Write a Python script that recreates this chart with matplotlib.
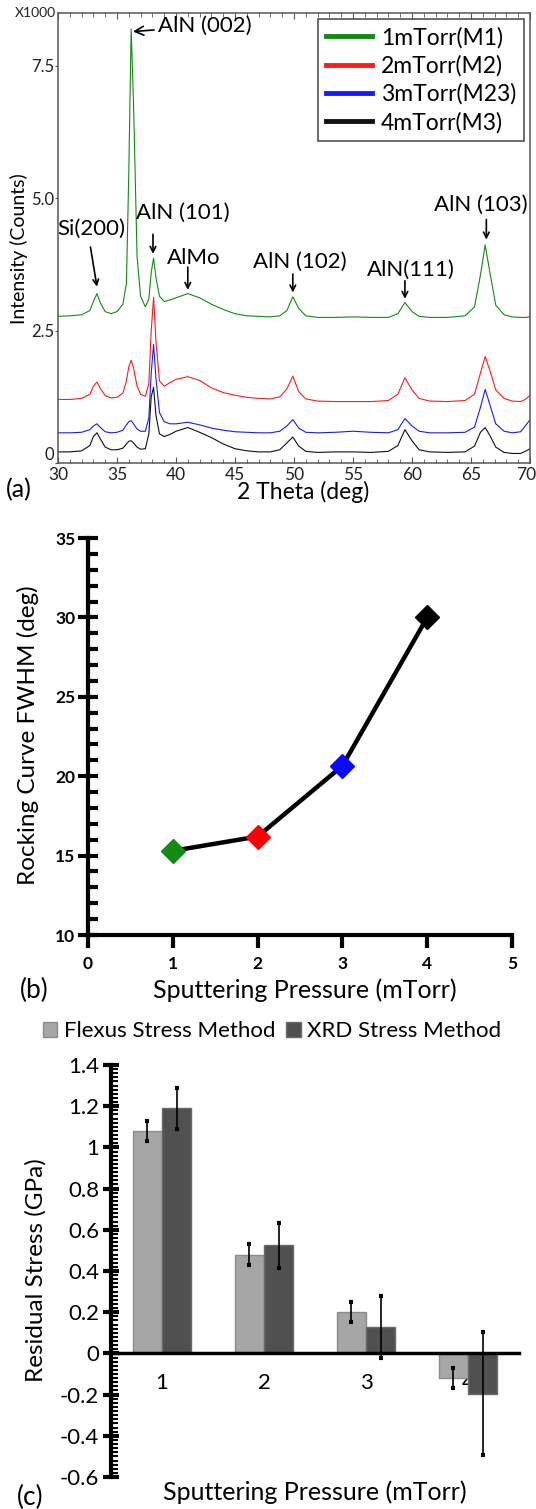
import matplotlib
matplotlib.use("Agg")
import matplotlib.pyplot as plt
from matplotlib.ticker import MultipleLocator, FuncFormatter
from matplotlib.patches import Patch

plt.rcParams['font.family'] = ['Lato', 'DejaVu Sans']
plt.rcParams['axes.unicode_minus'] = False

# ---------------- (a) XRD patterns ----------------
two_theta = [30, 31, 32, 32.7, 33.0, 33.3, 33.6, 34.0, 34.5, 35.0, 35.5, 35.8, 36.0, 36.2,
             36.4, 36.7, 37.0, 37.4, 37.7, 37.9, 38.1, 38.3, 38.6, 39.0, 39.5, 40.0, 41.0,
             42.0, 43.0, 44.0, 45.0, 46.0, 47.0, 48.0, 48.8, 49.4, 49.9, 50.4, 51.0, 52.0,
             53.5, 55.0, 56.5, 58.0, 58.8, 59.4, 60.0, 60.6, 61.5, 63.0, 64.5, 65.3, 65.8,
             66.2, 66.6, 67.1, 67.8, 68.5, 69.2, 69.6, 70.0]

# intensity in thousands of counts (curves are vertically offset)
int_m1 = [2.77, 2.78, 2.80, 2.88, 3.05, 3.20, 3.02, 2.86, 2.82, 2.86, 3.00, 3.40, 5.50, 8.20,
          6.80, 3.90, 3.15, 2.95, 3.10, 3.60, 3.87, 3.50, 3.15, 3.05, 3.08, 3.12, 3.20,
          3.12, 3.00, 2.90, 2.82, 2.78, 2.77, 2.76, 2.78, 2.88, 3.14, 2.92, 2.78, 2.75,
          2.75, 2.76, 2.75, 2.75, 2.82, 3.03, 2.86, 2.77, 2.75, 2.75, 2.78, 2.95, 3.55,
          4.12, 3.60, 2.98, 2.80, 2.76, 2.75, 2.75, 2.76]
int_m2 = [1.20, 1.20, 1.22, 1.30, 1.45, 1.53, 1.40, 1.27, 1.23, 1.24, 1.32, 1.55, 1.82, 1.94,
          1.80, 1.45, 1.30, 1.26, 1.50, 2.50, 3.13, 2.30, 1.55, 1.45, 1.52, 1.58, 1.63,
          1.56, 1.42, 1.33, 1.28, 1.24, 1.22, 1.21, 1.25, 1.40, 1.64, 1.35, 1.21, 1.17,
          1.16, 1.16, 1.16, 1.18, 1.30, 1.61, 1.38, 1.22, 1.17, 1.16, 1.18, 1.30, 1.70,
          2.01, 1.75, 1.38, 1.22, 1.17, 1.16, 1.20, 1.28]
int_m23 = [0.57, 0.57, 0.58, 0.63, 0.70, 0.74, 0.67, 0.59, 0.57, 0.58, 0.62, 0.72, 0.78, 0.80,
           0.74, 0.64, 0.60, 0.60, 0.85, 1.70, 2.24, 1.60, 0.95, 0.78, 0.74, 0.74, 0.77,
           0.72, 0.66, 0.62, 0.59, 0.58, 0.57, 0.57, 0.60, 0.70, 0.82, 0.66, 0.58, 0.57,
           0.58, 0.60, 0.58, 0.57, 0.63, 0.84, 0.70, 0.60, 0.57, 0.57, 0.58, 0.68, 1.05,
           1.39, 1.10, 0.74, 0.60, 0.57, 0.59, 0.70, 0.82]
int_m3 = [0.21, 0.21, 0.23, 0.33, 0.50, 0.57, 0.45, 0.30, 0.25, 0.25, 0.28, 0.36, 0.41, 0.42,
          0.38, 0.30, 0.26, 0.27, 0.55, 1.25, 1.43, 0.90, 0.55, 0.50, 0.54, 0.60, 0.67,
          0.58, 0.48, 0.36, 0.27, 0.23, 0.21, 0.21, 0.25, 0.38, 0.49, 0.32, 0.22, 0.20,
          0.21, 0.21, 0.20, 0.22, 0.33, 0.63, 0.42, 0.25, 0.21, 0.20, 0.21, 0.32, 0.58,
          0.67, 0.52, 0.30, 0.20, 0.18, 0.18, 0.22, 0.27]

xrd_labels = ['1mTorr(M1)', '2mTorr(M2)', '3mTorr(M23)', '4mTorr(M3)']
xrd_colors = ['#138a13', '#ff1a1a', '#1a1aff', '#111111']

# ---------------- (b) rocking curve ----------------
pressure = [1, 2, 3, 4]
fwhm = [15.3, 16.2, 20.65, 30.0]
fwhm_colors = ['#138a13', '#ff0000', '#0a0aff', '#000000']

# ---------------- (c) residual stress ----------------
stress_cats = ['1', '2', '3', '4']
flexus = [1.08, 0.48, 0.20, -0.12]
flexus_err = [0.05, 0.05, 0.05, 0.05]
xrd = [1.19, 0.525, 0.13, -0.195]
xrd_err = [0.10, 0.11, 0.15, 0.30]

W, H = 536, 1509
fig = plt.figure(figsize=(W / 100, H / 100), dpi=100)


def box(l, r, t, b):
    return [l / W, 1 - b / H, (r - l) / W, (b - t) / H]


def fig_text(x, y, s, **kw):
    fig.text(x / W, 1 - y / H, s, ha=kw.pop('ha', 'center'), va=kw.pop('va', 'center'), **kw)


# ================= panel (a) =================
ax = fig.add_axes(box(58, 530, 13, 463))
for y, lab, col in zip([int_m1, int_m2, int_m23, int_m3], xrd_labels, xrd_colors):
    ax.plot(two_theta, y, color=col, lw=0.8, label=lab)
ax.set_xlim(30, 70)
ax.set_ylim(0, 8.5)
for s in ax.spines.values():
    s.set_color('#555555')
    s.set_linewidth(1.1)
ax.xaxis.set_major_locator(MultipleLocator(5))
ax.xaxis.set_minor_locator(MultipleLocator(1))
# the label at the right end is drawn separately so it stays inside the figure
ax.xaxis.set_major_formatter(FuncFormatter(lambda v, _: '' if v >= 70 else f"{v:g}"))
ax.tick_params(axis='x', which='both', direction='in', top=True, colors='#555555',
               labelcolor='#222222', labelsize=12.5, pad=3)
ax.tick_params(axis='x', which='major', length=4)
ax.tick_params(axis='x', which='minor', length=3)
ax.annotate('70', xy=(70, 0), xytext=(-3, -3), textcoords='offset points', ha='center',
            va='top', fontsize=12.5, color='#222222', annotation_clip=False)
ax.set_yticks([0, 2.5, 5.0, 7.5])
ax.set_yticklabels(['0', '2.5', '5.0', '7.5'])
ax.tick_params(axis='y', direction='out', length=2, colors='#555555',
               labelcolor='#222222', labelsize=12, pad=1)
ax.get_yticklabels()[0].set_va('bottom')
ax.text(-0.005, 1.0, 'X1000', transform=ax.transAxes, ha='right', va='center',
        fontsize=10, color='#222222')
fig_text(303, 492, '2 Theta (deg)', fontsize=16.5)
fig_text(19, 249, 'Intensity (Counts)', fontsize=14, rotation=90)
fig_text(19, 490, '(a)', fontsize=18)

leg = ax.legend(loc='upper right', fontsize=16.5, handlelength=2.0, handletextpad=0.4,
                borderaxespad=0.25, fancybox=False, edgecolor='#444444', framealpha=1,
                labelspacing=0.3, borderpad=0.35)
leg.get_frame().set_linewidth(1.1)
for h in leg.legend_handles:
    h.set_linewidth(3.5)

arrow = dict(arrowstyle='->', color='black', lw=1.2, shrinkA=0, shrinkB=0)
ann_fs = 16
ax.annotate('AlN (002)', xy=(36.35, 8.15), xytext=(38.5, 8.25), ha='left', va='center',
            fontsize=ann_fs, arrowprops=dict(arrowstyle='->', color='black', lw=1.2,
                                             shrinkA=1, shrinkB=0))
ax.text(32.85, 4.43, 'Si(200)', ha='center', va='center', fontsize=ann_fs)
ax.annotate('', xy=(33.3, 3.33), xytext=(32.75, 4.08), arrowprops=arrow)
ax.text(40.6, 4.72, 'AlN (101)', ha='center', va='center', fontsize=ann_fs)
ax.annotate('', xy=(38.05, 3.95), xytext=(38.05, 4.32), arrowprops=arrow)
ax.text(41.5, 3.88, 'AlMo', ha='center', va='center', fontsize=ann_fs)
ax.annotate('', xy=(41.0, 3.27), xytext=(41.0, 3.7), arrowprops=arrow)
ax.text(50.5, 3.8, 'AlN (102)', ha='center', va='center', fontsize=ann_fs)
ax.annotate('', xy=(49.9, 3.22), xytext=(49.9, 3.57), arrowprops=arrow)
ax.text(59.9, 3.65, 'AlN(111)', ha='center', va='center', fontsize=ann_fs)
ax.annotate('', xy=(59.4, 3.1), xytext=(59.4, 3.44), arrowprops=arrow)
ax.text(65.8, 4.88, 'AlN (103)', ha='center', va='center', fontsize=ann_fs)
ax.annotate('', xy=(66.3, 4.22), xytext=(66.3, 4.6), arrowprops=arrow)

# ================= panel (b) =================
bx = fig.add_axes(box(88, 512, 538, 935))
bx.plot(pressure, fwhm, color='black', lw=3.2, zorder=2)
for p, f, c in zip(pressure, fwhm, fwhm_colors):
    bx.plot([p], [f], marker='D', ms=12, color=c, mec=c, zorder=3)
bx.set_xlim(0, 5)
bx.set_ylim(10, 35)
for side in ['top', 'right']:
    bx.spines[side].set_visible(False)
for side in ['left', 'bottom']:
    bx.spines[side].set_linewidth(3)
bx.xaxis.set_major_locator(MultipleLocator(1))
bx.yaxis.set_major_locator(MultipleLocator(5))
bx.yaxis.set_minor_locator(MultipleLocator(1))
bx.tick_params(axis='y', which='major', direction='inout', length=14, width=3,
               labelsize=12.5, pad=2)
bx.tick_params(axis='y', which='minor', direction='in', length=7, width=3)
bx.tick_params(axis='x', which='major', direction='out', length=9, width=3,
               labelsize=12.5, pad=6)
for t in bx.get_xticklabels() + bx.get_yticklabels():
    t.set_fontweight('bold')
fig_text(305, 990, 'Sputtering Pressure (mTorr)', fontsize=18)
fig_text(28, 735, 'Rocking Curve FWHM (deg)', fontsize=17.5, rotation=90)
fig_text(34, 990, '(b)', fontsize=19)

# ================= panel (c) =================
cx = fig.add_axes(box(111, 519, 1065, 1477))
pos = list(range(1, len(stress_cats) + 1))
bw = 0.285
cx.bar([p - bw / 2 for p in pos], flexus, width=bw, color='#a6a6a6', edgecolor='#8c8c8c',
       lw=1, zorder=2)
cx.bar([p + bw / 2 for p in pos], xrd, width=bw, color='#505050', edgecolor='#6a6a6a',
       lw=1, zorder=2)
cx.errorbar([p - bw / 2 for p in pos], flexus, yerr=flexus_err, fmt='none', ecolor='black',
            elinewidth=1.2, capsize=1.5, capthick=3, zorder=3)
cx.errorbar([p + bw / 2 for p in pos], xrd, yerr=xrd_err, fmt='none', ecolor='black',
            elinewidth=1.2, capsize=1.5, capthick=3, zorder=3)
cx.set_xlim(0.5, 4.5)
cx.set_ylim(-0.6, 1.4)
cx.spines['top'].set_visible(False)
cx.spines['right'].set_visible(False)
cx.spines['bottom'].set_position(('data', 0))
cx.spines['bottom'].set_linewidth(2.5)
cx.spines['bottom'].set_zorder(4)
cx.spines['left'].set_linewidth(3)
cx.set_xticks(pos)
cx.set_xticklabels(stress_cats)
cx.tick_params(axis='x', length=0, labelsize=16, pad=14)
cx.yaxis.set_major_locator(MultipleLocator(0.2))
cx.yaxis.set_minor_locator(MultipleLocator(0.02))
cx.yaxis.set_major_formatter(FuncFormatter(lambda v, _: f"{round(v, 2):g}"))
cx.tick_params(axis='y', which='major', direction='inout', length=11, width=3,
               labelsize=16, pad=3)
cx.tick_params(axis='y', which='minor', direction='in', length=5, width=1.5)
fig_text(36, 1270, 'Residual Stress (GPa)', fontsize=17.5, rotation=90)
fig_text(315, 1492, 'Sputtering Pressure (mTorr)', fontsize=18)
fig_text(30, 1497, '(c)', fontsize=19)
fig.legend(handles=[Patch(facecolor='#a6a6a6', edgecolor='#8c8c8c'),
                    Patch(facecolor='#505050', edgecolor='#6a6a6a')],
           labels=['Flexus Stress Method', 'XRD Stress Method'],
           loc='center', bbox_to_anchor=(272 / W, 1 - 1031 / H), ncol=2, frameon=False,
           fontsize=16, handlelength=0.65, handleheight=0.65, handletextpad=0.3,
           columnspacing=0.5)

fig.savefig('out.png', dpi=100)
